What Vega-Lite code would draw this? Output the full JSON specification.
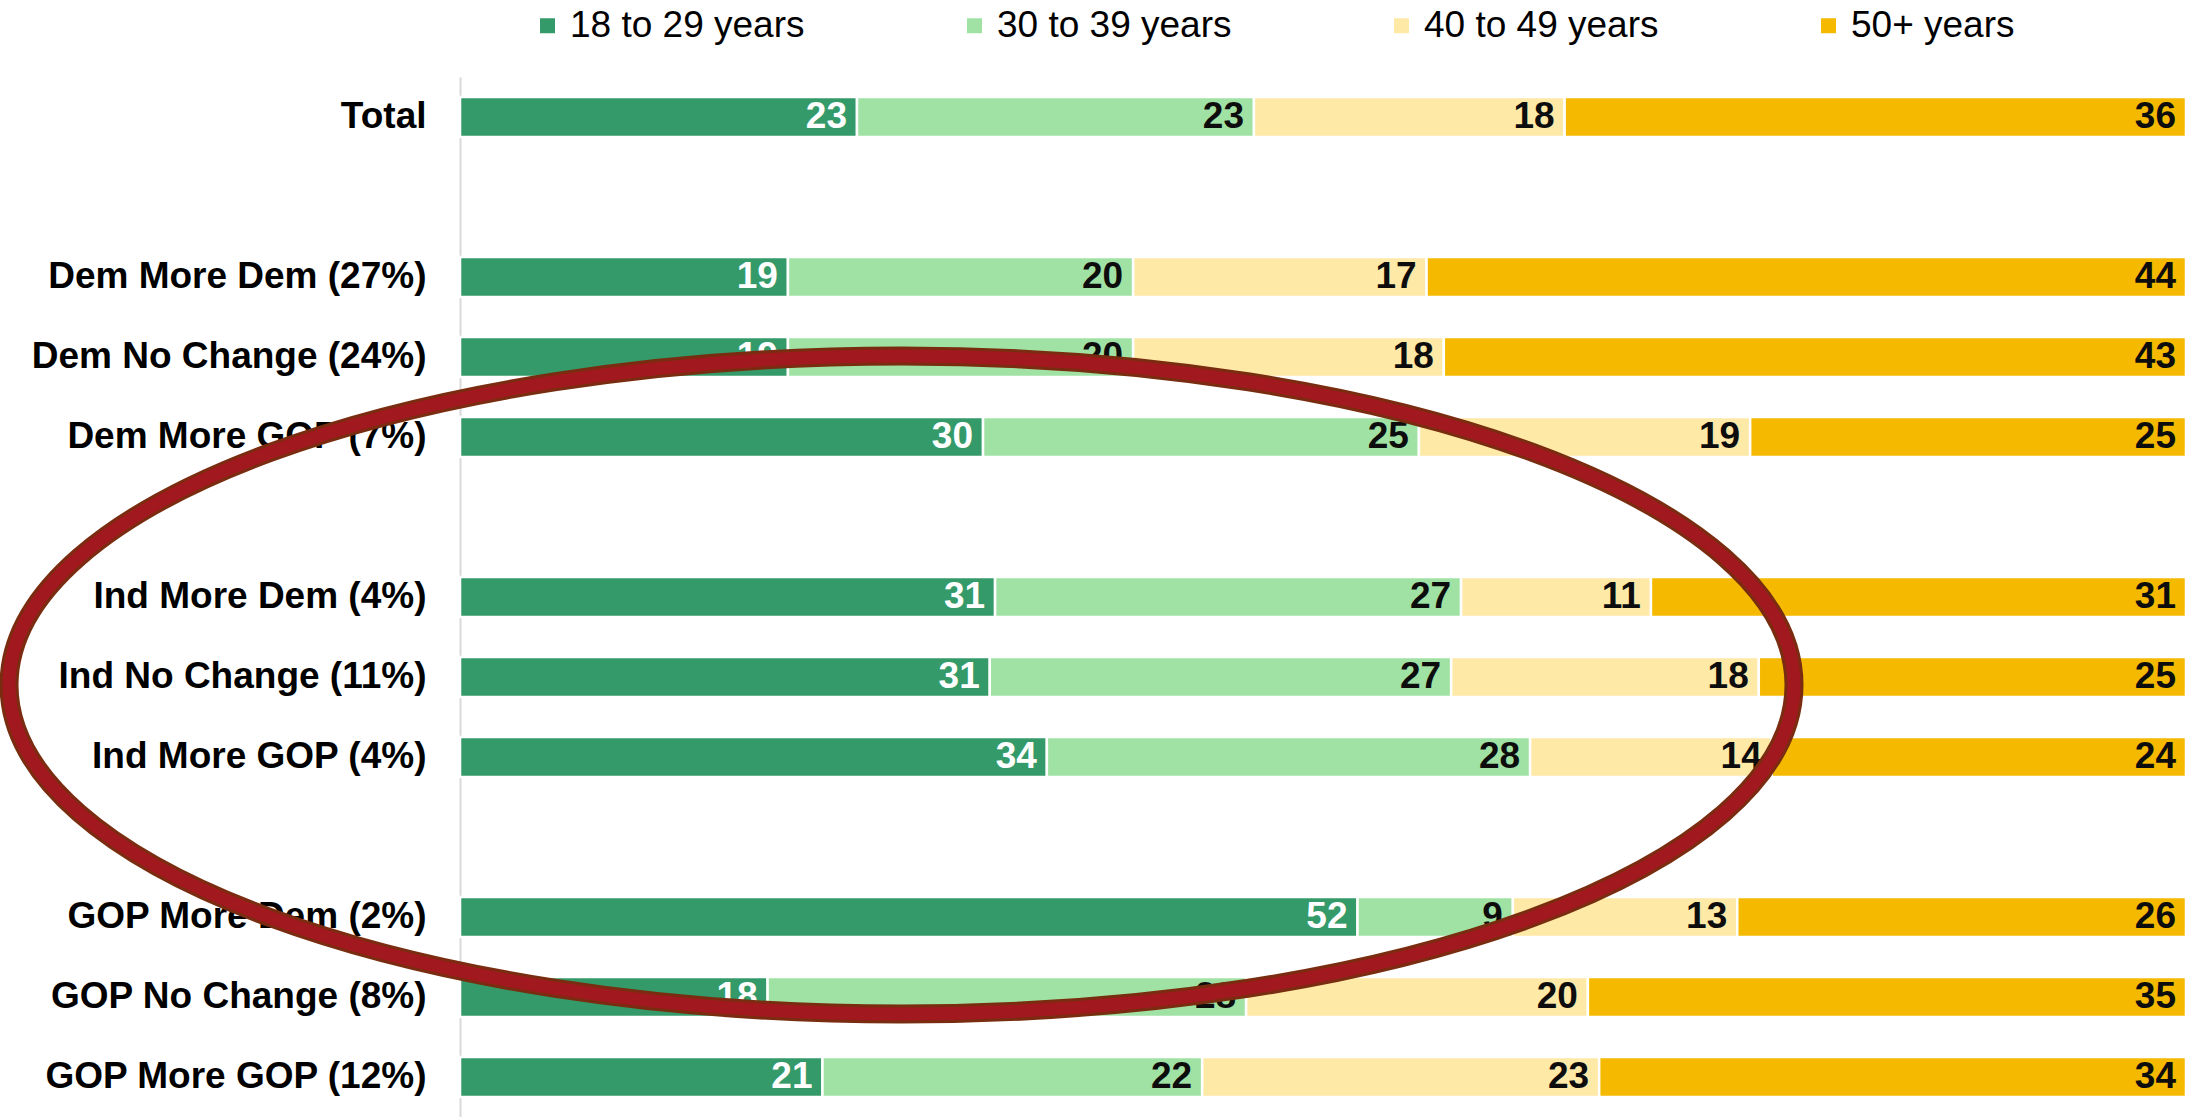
{
  "$schema": "https://vega.github.io/schema/vega-lite/v6.json",
  "autosize": {"type": "none"},
  "padding": {"left": 460, "top": 77, "right": 9, "bottom": 0},
  "width": 1726,
  "height": 1040,
  "background": "white",
  "config": {
    "view": {"stroke": null},
    "font": "Liberation Sans"
  },
  "datasets": {
    "bars": [
      {"cat": "Total", "age": "18 to 29 years", "value": 23},
      {"cat": "Total", "age": "30 to 39 years", "value": 23},
      {"cat": "Total", "age": "40 to 49 years", "value": 18},
      {"cat": "Total", "age": "50+ years", "value": 36},
      {"cat": "Dem More Dem (27%)", "age": "18 to 29 years", "value": 19},
      {"cat": "Dem More Dem (27%)", "age": "30 to 39 years", "value": 20},
      {"cat": "Dem More Dem (27%)", "age": "40 to 49 years", "value": 17},
      {"cat": "Dem More Dem (27%)", "age": "50+ years", "value": 44},
      {"cat": "Dem No Change (24%)", "age": "18 to 29 years", "value": 19},
      {"cat": "Dem No Change (24%)", "age": "30 to 39 years", "value": 20},
      {"cat": "Dem No Change (24%)", "age": "40 to 49 years", "value": 18},
      {"cat": "Dem No Change (24%)", "age": "50+ years", "value": 43},
      {"cat": "Dem More GOP (7%)", "age": "18 to 29 years", "value": 30},
      {"cat": "Dem More GOP (7%)", "age": "30 to 39 years", "value": 25},
      {"cat": "Dem More GOP (7%)", "age": "40 to 49 years", "value": 19},
      {"cat": "Dem More GOP (7%)", "age": "50+ years", "value": 25},
      {"cat": "Ind More Dem (4%)", "age": "18 to 29 years", "value": 31},
      {"cat": "Ind More Dem (4%)", "age": "30 to 39 years", "value": 27},
      {"cat": "Ind More Dem (4%)", "age": "40 to 49 years", "value": 11},
      {"cat": "Ind More Dem (4%)", "age": "50+ years", "value": 31},
      {"cat": "Ind No Change (11%)", "age": "18 to 29 years", "value": 31},
      {"cat": "Ind No Change (11%)", "age": "30 to 39 years", "value": 27},
      {"cat": "Ind No Change (11%)", "age": "40 to 49 years", "value": 18},
      {"cat": "Ind No Change (11%)", "age": "50+ years", "value": 25},
      {"cat": "Ind More GOP (4%)", "age": "18 to 29 years", "value": 34},
      {"cat": "Ind More GOP (4%)", "age": "30 to 39 years", "value": 28},
      {"cat": "Ind More GOP (4%)", "age": "40 to 49 years", "value": 14},
      {"cat": "Ind More GOP (4%)", "age": "50+ years", "value": 24},
      {"cat": "GOP More Dem (2%)", "age": "18 to 29 years", "value": 52},
      {"cat": "GOP More Dem (2%)", "age": "30 to 39 years", "value": 9},
      {"cat": "GOP More Dem (2%)", "age": "40 to 49 years", "value": 13},
      {"cat": "GOP More Dem (2%)", "age": "50+ years", "value": 26},
      {"cat": "GOP No Change (8%)", "age": "18 to 29 years", "value": 18},
      {"cat": "GOP No Change (8%)", "age": "30 to 39 years", "value": 28},
      {"cat": "GOP No Change (8%)", "age": "40 to 49 years", "value": 20},
      {"cat": "GOP No Change (8%)", "age": "50+ years", "value": 35},
      {"cat": "GOP More GOP (12%)", "age": "18 to 29 years", "value": 21},
      {"cat": "GOP More GOP (12%)", "age": "30 to 39 years", "value": 22},
      {"cat": "GOP More GOP (12%)", "age": "40 to 49 years", "value": 23},
      {"cat": "GOP More GOP (12%)", "age": "50+ years", "value": 34}
    ],
    "ellipse": [
      {"cat": "Ind No Change (11%)", "ex": 0.2558}
    ]
  },
  "layer": [
    {
      "data": {"name": "bars"},
      "mark": {"type": "bar", "stroke": "white", "strokeWidth": 2.5},
      "encoding": {
        "y": {
          "field": "cat", "type": "nominal",
          "scale": {
            "domain": ["Total", " ", "Dem More Dem (27%)", "Dem No Change (24%)", "Dem More GOP (7%)", "  ", "Ind More Dem (4%)", "Ind No Change (11%)", "Ind More GOP (4%)", "   ", "GOP More Dem (2%)", "GOP No Change (8%)", "GOP More GOP (12%)"],
            "paddingInner": 0.5, "paddingOuter": 0.25
          },
          "axis": {
            "title": null, "ticks": false, "domainColor": "#D9D9D9", "domainWidth": 2,
            "labelFont": "Liberation Sans", "labelFontWeight": "bold", "labelFontSize": 37,
            "labelColor": "#000000", "labelPadding": 34, "labelLimit": 600
          }
        },
        "x": {
          "field": "value", "type": "quantitative", "stack": "normalize",
          "scale": {"domain": [0, 1], "nice": false, "zero": true},
          "axis": null
        },
        "color": {
          "field": "age", "type": "nominal",
          "scale": {
            "domain": ["18 to 29 years", "30 to 39 years", "40 to 49 years", "50+ years"],
            "range": ["#349A69", "#A0E2A4", "#FFE9A6", "#F5BA00"]
          },
          "legend": {
            "title": null, "orient": "none", "direction": "horizontal",
            "legendX": 69, "legendY": -70, "padding": 0,
            "symbolType": "square", "symbolSize": 225, "symbolStrokeWidth": 0,
            "labelFont": "Liberation Sans", "labelFontSize": 37, "labelColor": "#000000",
            "labelOffset": 4, "columnPadding": 151, "labelLimit": 600
          }
        },
        "order": {"field": "age", "type": "ordinal", "sort": "ascending"}
      }
    },
    {
      "data": {"name": "bars"},
      "mark": {"type": "text", "align": "right", "baseline": "middle", "dx": -10, "font": "Liberation Sans", "fontWeight": "bold", "fontSize": 37},
      "encoding": {
        "y": {"field": "cat", "type": "nominal"},
        "x": {"field": "value", "type": "quantitative", "stack": "normalize", "scale": {"domain": [0, 1], "nice": false, "zero": true}},
        "detail": {"field": "age", "type": "nominal"},
        "order": {"field": "age", "type": "ordinal", "sort": "ascending"},
        "text": {"field": "value", "type": "quantitative"},
        "color": {"condition": {"test": "datum.age === '18 to 29 years'", "value": "#FFFFFF"}, "value": "#0D0D0D"}
      }
    },
    {
      "data": {"name": "ellipse"},
      "mark": {
        "type": "point", "filled": false, "opacity": 1, "fill": null,
        "stroke": "#7A2C10", "strokeWidth": 19, "size": 3186225,
        "shape": "M 1 0.009 C 1 0.2126 0.5523 0.3776 0 0.3776 C -0.5523 0.3776 -1 0.2126 -1 0.009 C -1 -0.1946 -0.5523 -0.3596 0 -0.3596 C 0.5523 -0.3596 1 -0.1946 1 0.009 Z"
      },
      "encoding": {
        "y": {"field": "cat", "type": "nominal"},
        "x": {"field": "ex", "type": "quantitative", "scale": {"domain": [0, 1], "nice": false, "zero": true}}
      }
    },
    {
      "data": {"name": "ellipse"},
      "mark": {
        "type": "point", "filled": false, "opacity": 1, "fill": null,
        "stroke": "#A1191F", "strokeWidth": 13, "size": 3186225,
        "shape": "M 1 0.009 C 1 0.2126 0.5523 0.3776 0 0.3776 C -0.5523 0.3776 -1 0.2126 -1 0.009 C -1 -0.1946 -0.5523 -0.3596 0 -0.3596 C 0.5523 -0.3596 1 -0.1946 1 0.009 Z"
      },
      "encoding": {
        "y": {"field": "cat", "type": "nominal"},
        "x": {"field": "ex", "type": "quantitative", "scale": {"domain": [0, 1], "nice": false, "zero": true}}
      }
    }
  ]
}
